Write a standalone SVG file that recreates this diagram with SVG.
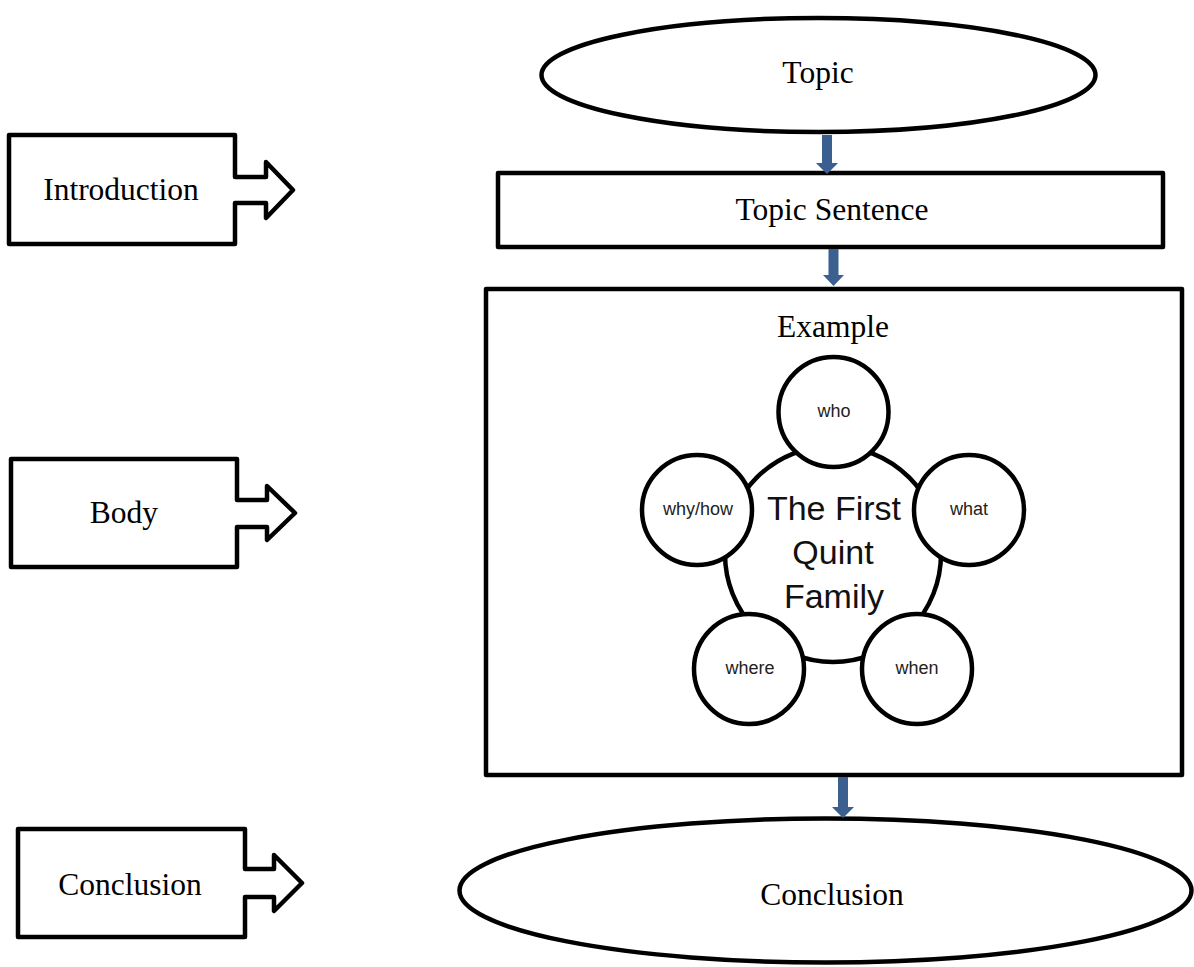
<svg xmlns="http://www.w3.org/2000/svg" width="1194" height="967" viewBox="0 0 1194 967">
<style>
.shape{fill:#fff;stroke:#000;stroke-width:4.5;stroke-linejoin:round}
.lbl{font-family:"Liberation Serif","Times New Roman",serif;font-size:31.5px;fill:#000;text-anchor:middle}
.q{fill:#fff;stroke:#000;stroke-width:4.5}
.qs{font-family:"Liberation Sans",Arial,sans-serif;font-size:18px;fill:#222;text-anchor:middle}
.qb{font-family:"Liberation Sans",Arial,sans-serif;font-size:34px;fill:#111;text-anchor:middle}
.conn{fill:#3b5f8f}
</style>
<rect width="1194" height="967" fill="#fff"/>
<g id="introduction">
<path class="shape" d="M9,135 H235 V177 H266 V162 L293,190 L266,218 V203 H235 V244 H9 Z"/>
<text class="lbl" x="121" y="200">Introduction</text>
</g>
<g id="body">
<path class="shape" d="M11,459 H237 V500 H267 V486 L295,513 L267,540 V527 H237 V567 H11 Z"/>
<text class="lbl" x="124" y="523">Body</text>
</g>
<g id="conclusion-label">
<path class="shape" d="M18,829 H245 V869 H274 V855 L302,883 L274,911 V897 H245 V937 H18 Z"/>
<text class="lbl" x="130" y="895">Conclusion</text>
</g>
<g id="topic">
<ellipse class="shape" cx="818.5" cy="75" rx="277" ry="57"/>
<text class="lbl" x="818" y="83">Topic</text>
</g>
<g id="topic-sentence">
<rect class="shape" x="498" y="173" width="665" height="74"/>
<text class="lbl" x="832" y="220">Topic Sentence</text>
</g>
<g id="example">
<rect class="shape" x="486" y="289" width="696" height="486"/>
<text class="lbl" x="833" y="337">Example</text>
<circle class="q" cx="833" cy="554" r="108"/>
<text class="qb" x="834" y="520">The First</text>
<text class="qb" x="833" y="564">Quint</text>
<text class="qb" x="834" y="608">Family</text>
<circle class="q" cx="833.5" cy="412" r="55"/>
<text class="qs" x="834" y="417">who</text>
<circle class="q" cx="969" cy="510" r="55"/>
<text class="qs" x="969" y="515">what</text>
<circle class="q" cx="917" cy="669" r="55"/>
<text class="qs" x="917" y="674">when</text>
<circle class="q" cx="749" cy="669" r="55"/>
<text class="qs" x="750" y="674">where</text>
<circle class="q" cx="697" cy="510" r="55"/>
<text class="qs" x="698" y="515">why/how</text>
</g>
<g id="conclusion">
<ellipse class="shape" cx="825.5" cy="890.5" rx="366" ry="72"/>
<text class="lbl" x="832" y="905">Conclusion</text>
</g>
<g id="connectors">
<path class="conn" d="M822,135 H832 V163 H838 L827,174 L816,163 H822 Z"/>
<path class="conn" d="M828.5,249 H838.5 V275 H844 L833.5,286 L823,275 H828.5 Z"/>
<path class="conn" d="M838,777 H848 V807 H854 L843,818 L832,807 H838 Z"/>
</g>
</svg>
